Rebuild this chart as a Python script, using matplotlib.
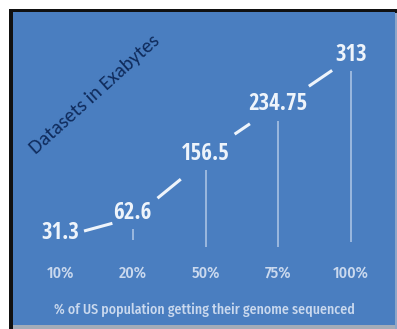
import matplotlib
matplotlib.use("Agg")
import matplotlib.pyplot as plt
from matplotlib.patches import Rectangle
import matplotlib.transforms as mtransforms
import numpy as np

# Data
categories = ["10%", "20%", "50%", "75%", "100%"]
datasets_eb = [31.3, 62.6, 156.5, 234.75, 313]
value_labels = ["31.3", "62.6", "156.5", "234.75", "313"]
x_title = "% of US population getting their genome sequenced"
y_title = "Datasets in Exabytes"

# Styling
W, H = 397, 329
DPI = 100
BLUE = "#4a7ec0"
TEXT_LIGHT = "#eef4fb"
TICK_COLOR = "#cad9ee"
NAVY = "#0f2b5c"
VALUE_FONT = ["Open Sans Condensed", "PT Sans Narrow", "DejaVu Sans"]
TICK_FONT = ["Fira Sans Condensed", "Open Sans Condensed", "DejaVu Sans"]
TITLE_FONT = ["Carlito", "Lato", "DejaVu Sans"]

fig = plt.figure(figsize=(W / DPI, H / DPI), dpi=DPI)
fig.patch.set_facecolor("white")

def px_rect(x0, y0, x1, y1):
    """Rectangle in figure fractions from top-left pixel coordinates."""
    return [x0 / W, 1 - y1 / H, (x1 - x0) / W, (y1 - y0) / H]

def add_fig_rect(x0, y0, x1, y1, color, z):
    l, b, w, h = px_rect(x0, y0, x1, y1)
    fig.patches.append(Rectangle((l, b), w, h, transform=fig.transFigure,
                                 facecolor=color, edgecolor="none", zorder=z))

# Dark frame on the left and top edges, pale grey edges right and bottom
add_fig_rect(9, 9, W, 13, "#111111", -10)
add_fig_rect(9, 9, 13, H, "#111111", -10)
add_fig_rect(13, 325, W, H, "#a3acb8", -9)
add_fig_rect(395, 13, W, H, "#8ea6c8", -9)

ax = fig.add_axes(px_rect(13, 12, 395, 325))
ax.set_zorder(5)
ax.set_facecolor(BLUE)
for s in ax.spines.values():
    s.set_visible(False)
ax.set_xticks([])
ax.set_yticks([])

x = np.arange(len(categories))
y = np.array(datasets_eb)
ax.set_xlim(-0.646, 4.604)
ax.set_ylim(-114, 381)

# Faint vertical stems under each value label
stem_ranges = [None, (20, 38), (10, 131), (10, 208), (18, 287)]
for xi, rng in zip(x, stem_ranges):
    if rng is None:
        continue
    ax.plot([xi, xi], rng, color="#dbe7f6", lw=1.1, alpha=0.7,
            solid_capstyle="butt", zorder=2)

# Short connector dashes between consecutive labels
gaps = [(0.33, 0.72), (0.34, 0.66), (0.40, 0.61), (0.42, 0.74)]
offsets = [-7, -8, 0, -4]
for i, ((t0, t1), dy) in enumerate(zip(gaps, offsets)):
    xa, xb = x[i], x[i + 1]
    ya, yb = y[i] + dy, y[i + 1] + dy
    ax.plot([xa + t0 * (xb - xa), xa + t1 * (xb - xa)],
            [ya + t0 * (yb - ya), ya + t1 * (yb - ya)],
            color=TEXT_LIGHT, lw=2.2, solid_capstyle="butt", zorder=3)

# Value labels placed at their data values
for xi, yi, lab in zip(x, y, value_labels):
    ax.text(xi, yi, lab, ha="center", va="center", color=TEXT_LIGHT,
            fontsize=16.5, fontweight="bold", family=VALUE_FONT, zorder=4)

# Category labels along the bottom
trans = mtransforms.blended_transform_factory(ax.transData, ax.transAxes)
for xi, lab in zip(x, categories):
    ax.text(xi, (325 - 273) / 313, lab, transform=trans, ha="center",
            va="center", color=TICK_COLOR, fontsize=11.5, fontweight=500,
            family=TICK_FONT)

ax.text(0.5, (325 - 310) / 313, x_title, transform=ax.transAxes,
        ha="center", va="center", color=TICK_COLOR, fontsize=10,
        fontweight=500, family=TICK_FONT)

# Diagonal axis title
ax.text((95 - 13) / 382, (325 - 94) / 313, y_title, transform=ax.transAxes,
        ha="center", va="center", rotation=42, rotation_mode="anchor",
        color=NAVY, fontsize=14.5, family=TITLE_FONT)

fig.savefig("out.png", dpi=DPI, facecolor=fig.get_facecolor())
